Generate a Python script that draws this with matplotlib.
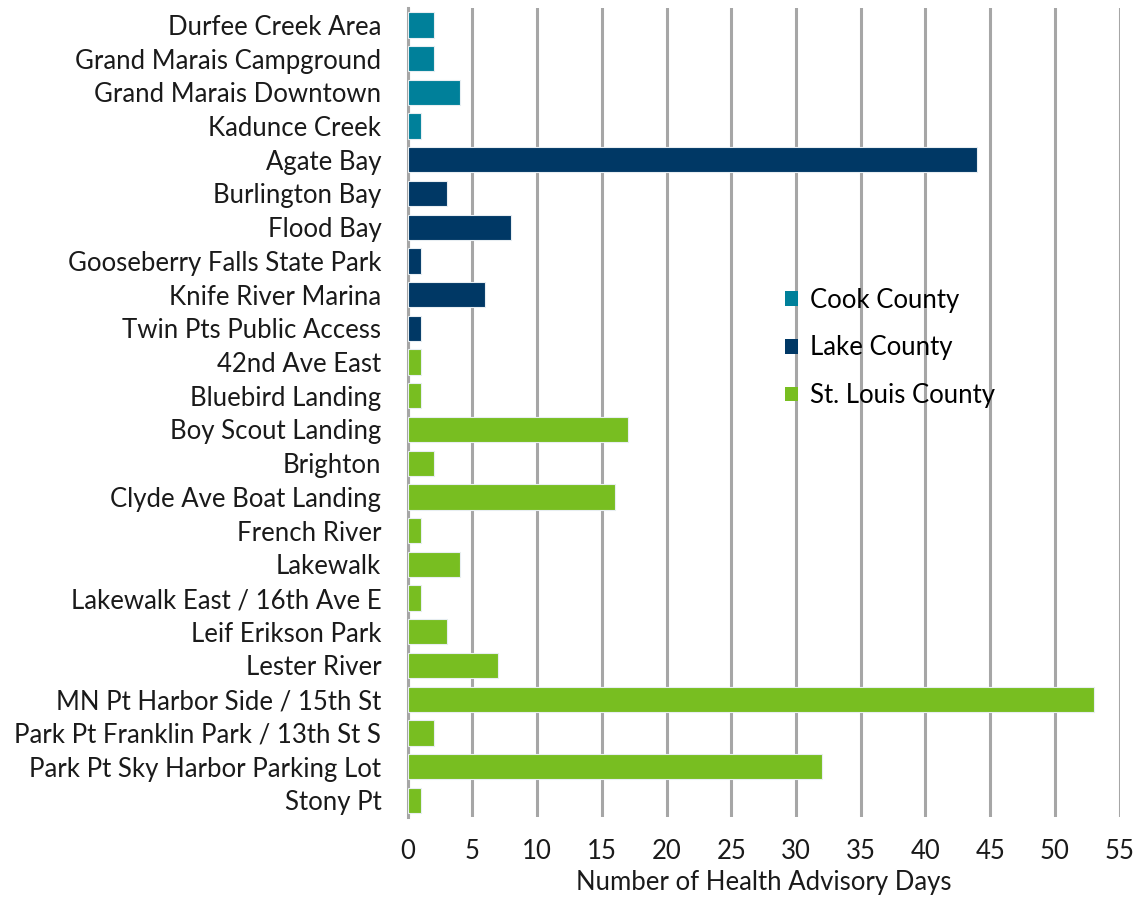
import matplotlib.pyplot as plt
from matplotlib.patches import Patch

plt.rcParams['font.family'] = ['Lato', 'DejaVu Sans']

cook_sites = ['Durfee Creek Area', 'Grand Marais Campground', 'Grand Marais Downtown', 'Kadunce Creek']
cook_days = [2, 2, 4, 1]

lake_sites = ['Agate Bay', 'Burlington Bay', 'Flood Bay', 'Gooseberry Falls State Park',
              'Knife River Marina', 'Twin Pts Public Access']
lake_days = [44, 3, 8, 1, 6, 1]

stlouis_sites = ['42nd Ave East', 'Bluebird Landing', 'Boy Scout Landing', 'Brighton',
                 'Clyde Ave Boat Landing', 'French River', 'Lakewalk',
                 'Lakewalk East / 16th Ave E', 'Leif Erikson Park', 'Lester River',
                 'MN Pt Harbor Side / 15th St', 'Park Pt Franklin Park / 13th St S',
                 'Park Pt Sky Harbor Parking Lot', 'Stony Pt']
stlouis_days = [1, 1, 17, 2, 16, 1, 4, 1, 3, 7, 53, 2, 32, 1]

counties = ['Cook County', 'Lake County', 'St. Louis County']
colors = ['#00809A', '#003865', '#78BE21']

fs = 18.5
fig = plt.figure(figsize=(11.39, 8.97), dpi=100)
ax = fig.add_axes([0.358, 0.089, 0.625, 0.902])

groups = [(cook_sites, cook_days), (lake_sites, lake_days), (stlouis_sites, stlouis_days)]
labels = []
pos = 0
for (sites, days), c in zip(groups, colors):
    ys = list(range(pos, pos + len(sites)))
    ax.barh(ys, days, height=0.75, color=c, edgecolor='#e8eef2', linewidth=0.8, zorder=3)
    labels += sites
    pos += len(sites)

ax.set_yticks(range(len(labels)))
ax.set_yticklabels(labels, fontsize=fs, color='#1a1a1a')
ax.set_ylim(len(labels) - 0.5, -0.5)

ax.set_xlim(0, 55)
ax.set_xticks(range(0, 56, 5))
ax.tick_params(axis='x', labelsize=fs, colors='#1a1a1a', length=0, pad=16)
ax.tick_params(axis='y', length=0, pad=19)
ax.xaxis.grid(True, color='#a6a6a6', linewidth=2.2, zorder=0)
ax.set_axisbelow(True)
for s in ['top', 'right', 'bottom']:
    ax.spines[s].set_visible(False)
ax.spines['left'].set_color('#a6a6a6')
ax.spines['left'].set_linewidth(2.2)

ax.set_xlabel('Number of Health Advisory Days', fontsize=fs, color='#1a1a1a', labelpad=4)

handles = [Patch(facecolor=c, label=n) for c, n in zip(colors, counties)]
ax.legend(handles=handles, loc='upper left', bbox_to_anchor=(0.516, 0.667), frameon=False,
          fontsize=fs, handlelength=0.5, handleheight=0.5, labelspacing=0.88,
          handletextpad=0.45, borderaxespad=0)

fig.savefig('out.png', dpi=100)
